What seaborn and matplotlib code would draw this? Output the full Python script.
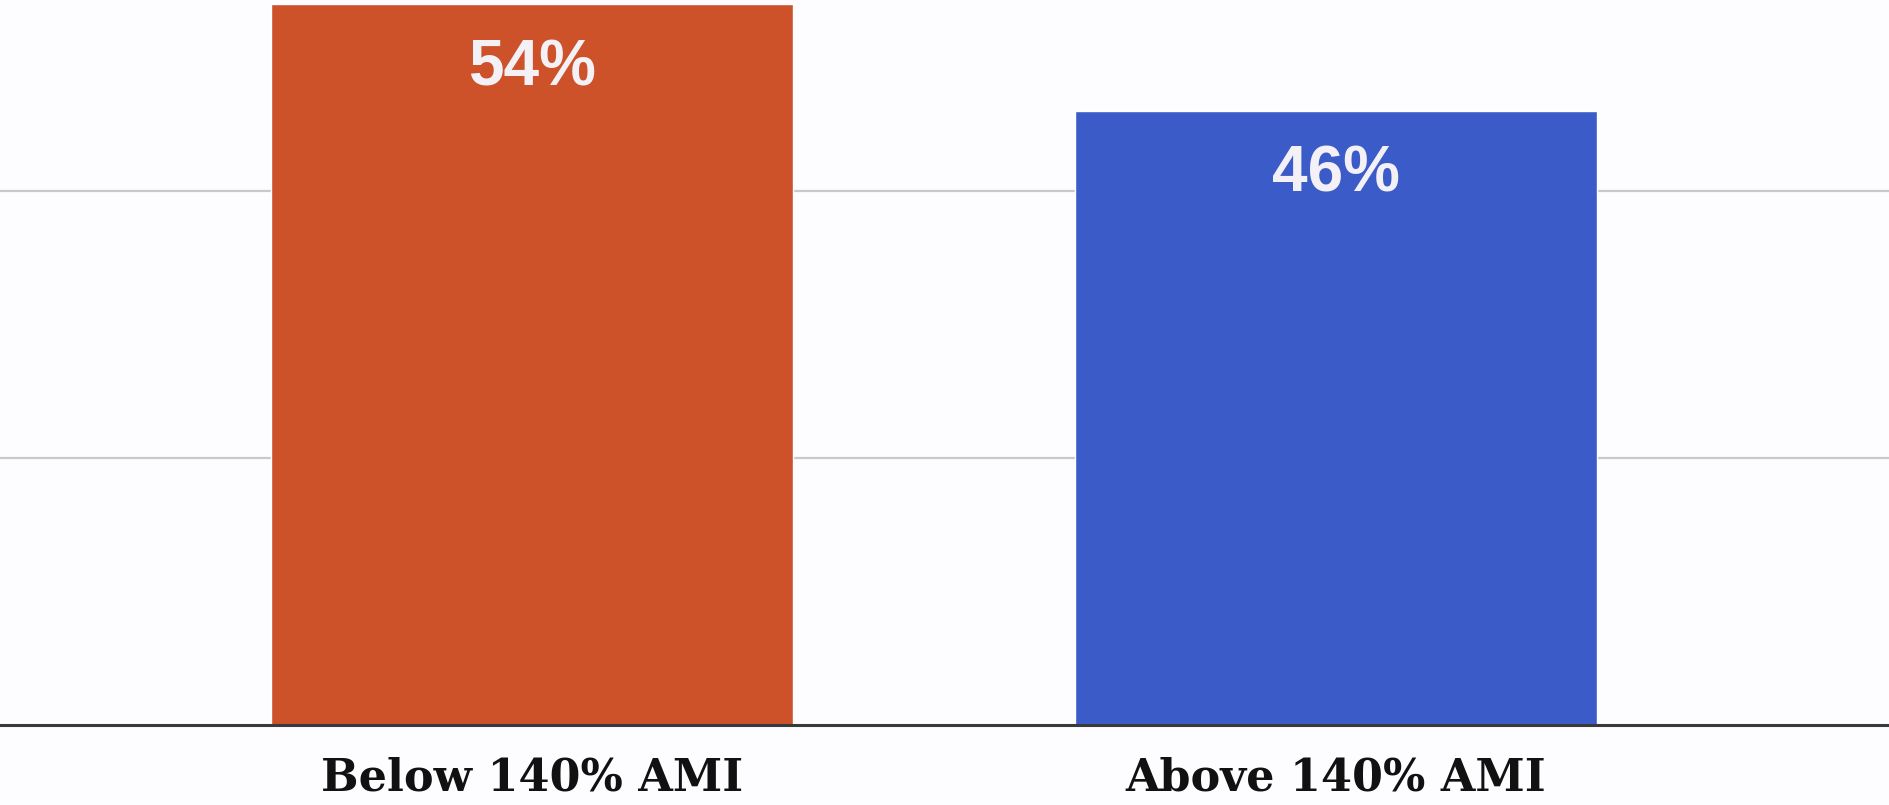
import numpy as np
import pandas as pd
import matplotlib.pyplot as plt
import seaborn as sns

# data
categories = ["Below 140% AMI", "Above 140% AMI"]
shares = [54, 46]
bar_colors = ["#CD5129", "#3A5BC8"]

df = pd.DataFrame({"group": categories, "share": shares})

sns.set_style("white")

fig = plt.figure(figsize=(18.89, 8.05), dpi=100)
ax = fig.add_axes([0, 80 / 805, 1, 725 / 805])

sns.barplot(data=df, x="group", y="share", hue="group", palette=bar_colors,
            width=0.65, saturation=1, legend=False, ax=ax, zorder=2)

ax.set_xlim(-0.662, 1.688)
ax.set_ylim(0, 54.3)

# gridlines
ax.set_yticks([20, 40])
ax.yaxis.grid(True, color="#C9C9C9", linewidth=1.6, zorder=0)
ax.set_axisbelow(True)
ax.tick_params(axis="y", left=False, labelleft=False)

for s in ["top", "left", "right"]:
    ax.spines[s].set_visible(False)
ax.spines["bottom"].set_color("#3A3A3A")
ax.spines["bottom"].set_linewidth(2.2)

# value labels inside bars
for i, v in enumerate(shares):
    ax.text(i, v - 4.8, f"{v}%", ha="center", va="center", color="#F3F1F6",
            fontsize=46, fontweight="bold", family="Liberation Sans", zorder=3)

ax.set_xlabel("")
ax.set_ylabel("")
ax.tick_params(axis="x", bottom=False, pad=19)
ax.set_xticks(range(len(categories)))
ax.set_xticklabels(categories, fontsize=32, fontweight="bold",
                   family="DejaVu Serif", color="#111111")

fig.patch.set_facecolor("#FDFDFF")
ax.set_facecolor("#FDFDFF")

fig.savefig("out.png", dpi=100, facecolor=fig.get_facecolor())
